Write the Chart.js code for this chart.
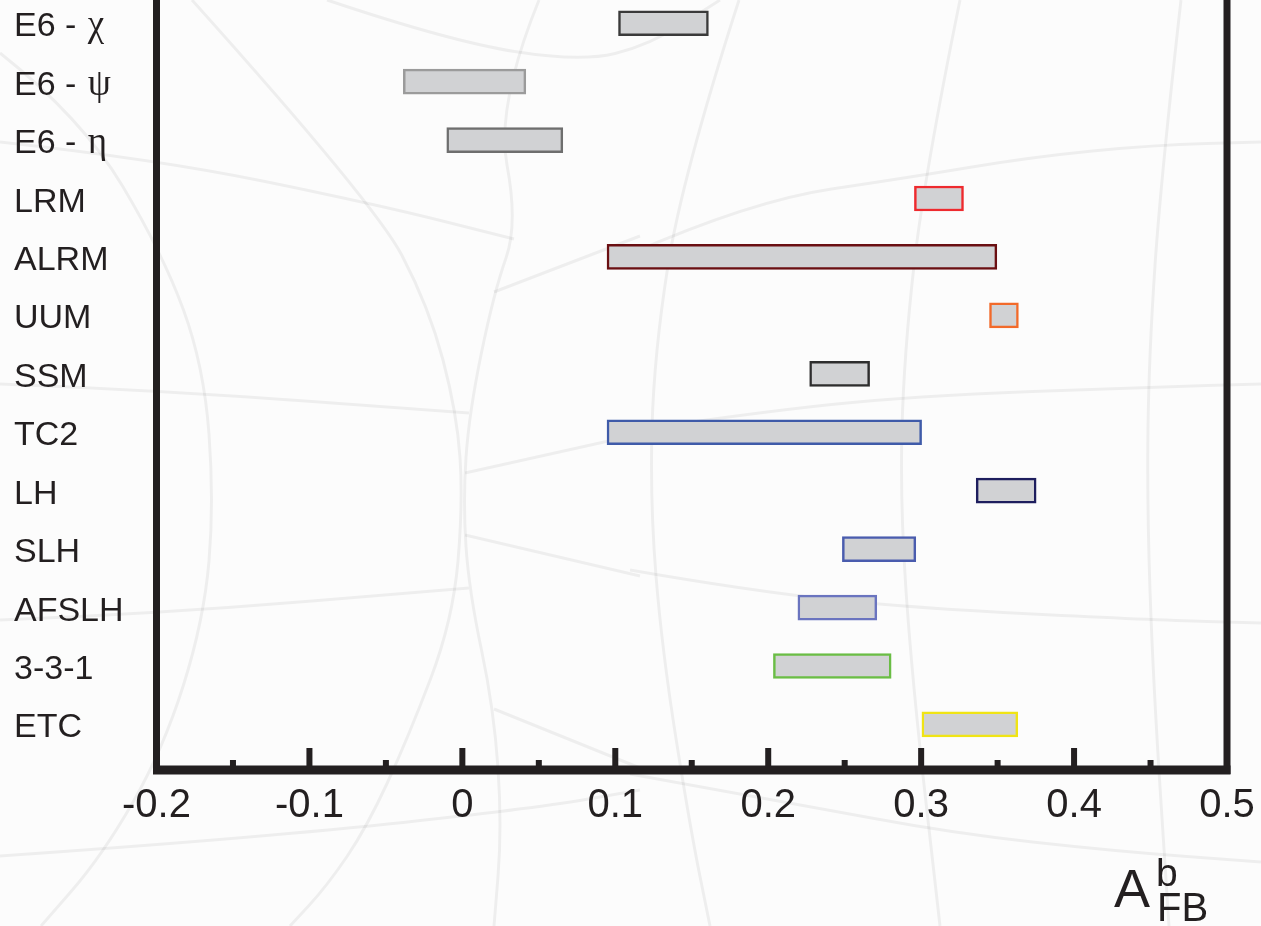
<!DOCTYPE html>
<html>
<head>
<meta charset="utf-8">
<script src="https://cdn.jsdelivr.net/npm/chart.js@4.4.1/dist/chart.umd.min.js"></script>
<style>
  html, body { margin: 0; padding: 0; background: #fcfcfc; overflow: hidden; }
  #wrap { position: absolute; left: 0; top: -6px; width: 1261px; height: 932px; }
</style>
</head>
<body>
<div id="wrap"><canvas id="c" width="1261" height="932"></canvas></div>
<script>
// ---- data ----
const categories = ['E6 - χ', 'E6 - ψ', 'E6 - η', 'LRM', 'ALRM', 'UUM', 'SSM', 'TC2', 'LH', 'SLH', 'AFSLH', '3-3-1', 'ETC'];
const lowValues  = [0.1021, -0.0386, -0.0102, 0.2956, 0.0946, 0.3447, 0.2271, 0.0946, 0.3360, 0.2485, 0.2194, 0.2034, 0.3005];
const highValues = [0.1609,  0.0415,  0.0657, 0.3277, 0.3495, 0.3636, 0.2663, 0.3003, 0.3752, 0.2965, 0.2710, 0.2804, 0.3632];
const borderColors = ['#3a3a3a', '#9b9b9b', '#6e6e6e', '#ee2a2e', '#6a0f12', '#f26a2a', '#2e2e2e', '#3f5ba9', '#1e1e5e', '#4a5cae', '#6a74bf', '#6abd45', '#f0e414'];
const xTickValues = [-0.2, -0.1, 0, 0.1, 0.2, 0.3, 0.4, 0.5];
const xTickLabels = ['-0.2', '-0.1', '0', '0.1', '0.2', '0.3', '0.4', '0.5'];
const xMinorTicks = [-0.15, -0.05, 0.05, 0.15, 0.25, 0.35, 0.45];

const OFF = 6; // canvas is shifted up by 6px on the page
const INK = '#231f20';

// faint watermark curves (page coordinates)
const bgCurves = [
  [[192,0],[375,204],[429,307],[457,413],[463,502],[453,620],[408,738],[367,827],[327,886],[290,926]],
  [[0,53],[82,118],[163,254],[204,366],[214,502],[204,620],[163,750],[102,856],[41,926]],
  [[0,142],[155,159],[375,204],[514,239]],
  [[0,384],[155,390],[469,413]],
  [[0,620],[155,614],[469,588]],
  [[465,473],[640,434]],
  [[465,535],[640,576]],
  [[494,292],[640,236]],
  [[539,0],[496,106],[518,224],[494,292],[469,413],[463,502],[469,591],[494,709],[502,827],[494,926]],
  [[494,709],[640,768]],
  [[0,856],[245,839],[531,809],[640,790]],
  [[327,0],[449,41],[580,62],[650,45],[720,0]],
  [[739,0],[682,177],[654,354],[650,502],[662,650],[690,827],[710,926]],
  [[960,0],[924,177],[904,354],[900,502],[912,679],[940,926]],
  [[1181,0],[1161,177],[1149,354],[1147,502],[1153,679],[1169,926]],
  [[630,254],[751,201],[912,177],[1032,157],[1153,145],[1261,142]],
  [[630,431],[751,413],[912,396],[1153,387],[1261,384]],
  [[630,570],[751,591],[912,608],[1153,620],[1261,623]],
  [[630,774],[791,803],[952,833],[1113,851],[1261,862]]
];

function smoothPath(ctx, pts) {
  ctx.beginPath();
  ctx.moveTo(pts[0][0], pts[0][1] + OFF);
  if (pts.length === 2) { ctx.lineTo(pts[1][0], pts[1][1] + OFF); return; }
  for (let i = 1; i < pts.length - 1; i++) {
    const mx = (pts[i][0] + pts[i+1][0]) / 2, my = (pts[i][1] + pts[i+1][1]) / 2;
    ctx.quadraticCurveTo(pts[i][0], pts[i][1] + OFF, mx, my + OFF);
  }
  const l = pts[pts.length - 1];
  ctx.lineTo(l[0], l[1] + OFF);
}

const decor = {
  id: 'decor',
  beforeDraw(chart) {
    const ctx = chart.ctx;
    ctx.save();
    ctx.strokeStyle = 'rgba(0,0,0,0.055)';
    ctx.lineWidth = 3;
    bgCurves.forEach(p => { smoothPath(ctx, p); ctx.stroke(); });
    ctx.restore();
  },
  afterDraw(chart) {
    const ctx = chart.ctx, a = chart.chartArea, xs = chart.scales.x, ys = chart.scales.y;
    ctx.save();
    ctx.fillStyle = INK;
    // frame: left, right, bottom
    ctx.fillRect(a.left - 3.5, a.top - 10, 7, a.bottom - a.top + 14);
    ctx.fillRect(a.right - 3.5, a.top - 10, 7, a.bottom - a.top + 14);
    ctx.fillRect(a.left - 3.5, a.bottom - 4.5, a.right - a.left + 7, 9);
    // major and minor ticks (inside)
    xTickValues.forEach(v => {
      const px = xs.getPixelForValue(v);
      ctx.fillRect(px - 3, a.bottom - 22, 6, 20);
    });
    xMinorTicks.forEach(v => {
      const px = xs.getPixelForValue(v);
      ctx.fillRect(px - 3, a.bottom - 10, 6, 8);
    });
    // category labels
    ctx.textAlign = 'left';
    ctx.textBaseline = 'alphabetic';
    categories.forEach((lab, i) => {
      const py = ys.getPixelForValue(i) + 13;
      const m = lab.match(/^(.*?)([\u0370-\u03FF])$/);
      ctx.font = '34px "Liberation Sans", Arial, sans-serif';
      if (m) {
        ctx.fillText(m[1], 14, py);
        const w = ctx.measureText(m[1]).width;
        ctx.font = '37px "Liberation Serif", "Times New Roman", serif';
        ctx.fillText(m[2], 14 + w + 2, py);
      } else {
        ctx.fillText(lab, 14, py);
      }
    });
    // axis title A^b_FB
    ctx.font = '54px "Liberation Sans", Arial, sans-serif';
    ctx.fillText('A', 1114, 907 + OFF);
    ctx.font = '39px "Liberation Sans", Arial, sans-serif';
    ctx.fillText('b', 1156, 886 + OFF);
    ctx.font = '40px "Liberation Sans", Arial, sans-serif';
    ctx.fillText('FB', 1157, 921 + OFF);
    ctx.restore();
  }
};

new Chart(document.getElementById('c'), {
  type: 'bar',
  data: {
    datasets: [{
      data: categories.map((c, i) => ({ y: i, x: [lowValues[i], highValues[i]] })),
      backgroundColor: '#d1d2d4',
      borderColor: borderColors,
      borderWidth: 2.5,
      borderSkipped: false,
      barThickness: 25
    }]
  },
  options: {
    indexAxis: 'y',
    responsive: false,
    animation: false,
    layout: { padding: { left: 0, right: 34, top: 0, bottom: 0 } },
    plugins: { legend: { display: false }, tooltip: { enabled: false } },
    scales: {
      x: {
        type: 'linear',
        min: -0.2, max: 0.5,
        offset: false,
        grid: { display: false, drawTicks: false },
        border: { display: false },
        afterBuildTicks(s) { s.ticks = xTickValues.map(v => ({ value: v })); },
        afterFit(s) { s.height = 156; s.paddingLeft = 0; s.paddingRight = 0; },
        ticks: {
          padding: 12,
          color: INK,
          font: { family: '"Liberation Sans", Arial, sans-serif', size: 40 },
          maxRotation: 0, autoSkip: false,
          callback(v, i) { return xTickLabels[i]; }
        }
      },
      y: {
        type: 'linear',
        reverse: true,
        offset: false,
        min: -0.5, max: 12.78,
        grid: { display: false, offset: false },
        border: { display: false },
        afterBuildTicks(s) { s.ticks = categories.map((c, i) => ({ value: i })); },
        afterFit(s) { s.width = 156.5; s.paddingTop = 0; s.paddingBottom = 0; },
        ticks: { display: false }
      }
    }
  },
  plugins: [decor]
});
</script>
</body>
</html>
